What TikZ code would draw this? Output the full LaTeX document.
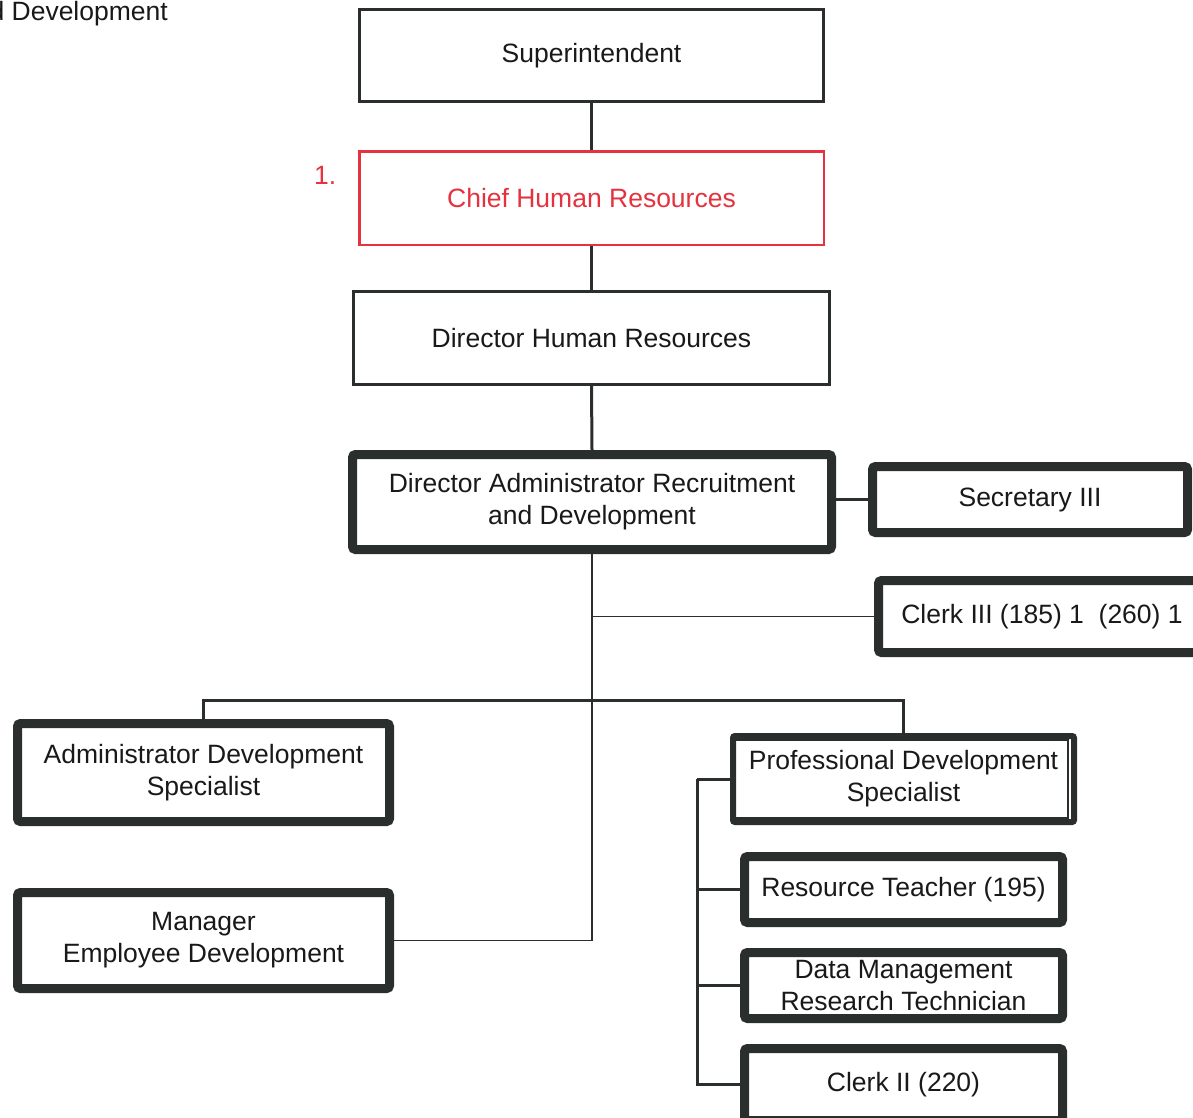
\documentclass[tikz,border=0pt]{standalone}
\usepackage{fontspec}
\setmainfont{Liberation Sans}
\definecolor{ink}{HTML}{2A2E2D}
\definecolor{chiefred}{HTML}{E5323E}
\begin{document}
\begin{tikzpicture}[x=1pt,y=-1pt,
  every node/.style={font=\fontsize{26.5}{32}\selectfont, align=center, inner sep=0pt, text=black!90},
  thinbox/.style={draw=ink, line width=3pt, fill=white},
  redbox/.style={draw=chiefred, line width=2.5pt, fill=white, text=chiefred},
  thickbox/.style={draw=ink, line width=9pt, rounded corners=3pt, fill=white},
  dblbox/.style={draw=ink, line width=6pt, rounded corners=2pt, fill=white},
  conn/.style={draw=ink, line width=3pt},
  thinconn/.style={draw=ink, line width=1.8pt}]
\useasboundingbox (0,0) rectangle (1193,1117);

% connectors (drawn under boxes)
\coordinate (bus) at (592,700);
\coordinate (bx) at (697,777);

% boxes
\node[thinbox, minimum width=464pt, minimum height=92pt] (sup) at (591.5,55.5) {Superintendent};
\node[redbox, minimum width=464.5pt, minimum height=93.5pt] (chief) at (591.5,198) {Chief Human Resources};
\node[text=chiefred, anchor=base west] (one) at (314,184) {1.};
\node[thinbox, minimum width=476pt, minimum height=93pt] (dirhr) at (591.5,338) {Director Human Resources};
\node[thickbox, minimum width=479pt, minimum height=95pt] (dard) at (592,502) {Director Administrator Recruitment\\and Development};
\node[thickbox, minimum width=315pt, minimum height=66pt] (sec) at (1030,499.5) {Secretary III};
\node[thickbox, minimum width=327pt, minimum height=72pt] (clerk3) at (1042,616.5) {Clerk III (185) 1\ \ (260) 1};
\node[thickbox, minimum width=372pt, minimum height=98pt] (ads) at (203.5,772.5) {Administrator Development\\Specialist};
\node[thickbox, minimum width=372pt, minimum height=96pt] (med) at (203.5,940.5) {Manager\\Employee Development};
\node[dblbox, minimum width=341pt, minimum height=86pt] (pds) at (903.5,779) {Professional Development\\Specialist};
\node[thickbox, minimum width=318pt, minimum height=66pt] (rt) at (903.5,889.5) {Resource Teacher (195)};
\node[thickbox, minimum width=318pt, minimum height=66pt] (dm) at (903.5,985.5) {Data Management\\Research Technician};
\node[thickbox, minimum width=318pt, minimum height=72pt] (c2) at (903.5,1084.5) {Clerk II (220)};
\node[anchor=base east] (hdr) at (168,20) {d Development};

% inner line of the double box
\draw[ink, line width=2pt] ([xshift=5pt,yshift=-7pt]pds.north west) rectangle ([xshift=-9pt,yshift=7pt]pds.south east);

% connectors
\draw[conn] (sup.south) -- (chief.north);
\draw[conn] (chief.south) -- (dirhr.north);
\draw[conn] (dirhr.south) -- (dard.north);
\draw[conn] (sec.west -| dard.east) -- (sec.west);
\draw[thinconn] (dard.south) |- (med.east);
\draw[thinconn] (dard.south |- clerk3.west) -- (clerk3.west);
\draw[conn] (ads.north) |- (bus) -| (pds.north);
\draw[conn] (pds.west -| bx) |- (c2.west);
\draw[conn] (pds.west -| bx) -- (pds.west);
\draw[conn] (rt.west -| bx) -- (rt.west);
\draw[conn] (dm.west -| bx) -- (dm.west);
\end{tikzpicture}
\end{document}
